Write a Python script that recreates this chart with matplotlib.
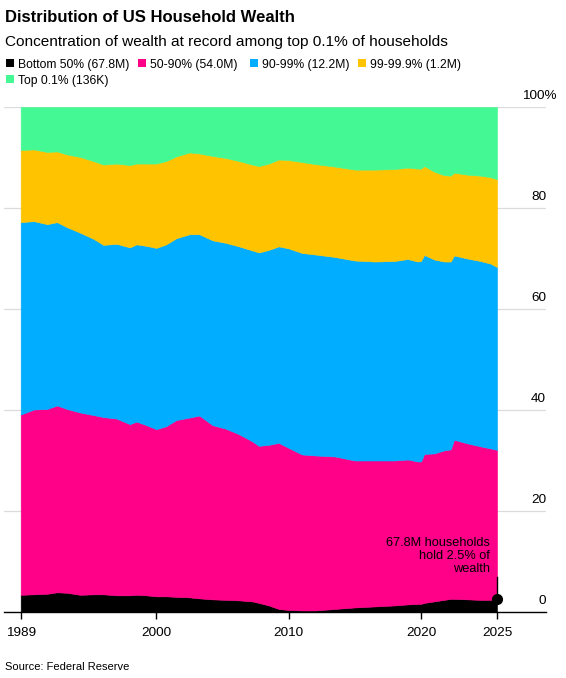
import numpy as np
import matplotlib
matplotlib.use('Agg')
import matplotlib.pyplot as plt
from matplotlib.patches import Rectangle

plt.rcParams['font.family'] = ['Liberation Sans', 'DejaVu Sans']

# Quarter positions (decimal years) and wealth shares in percent
years = [1989.75, 1990.75, 1991.75, 1992.5, 1993.25, 1994.25, 1995.25, 1996.0,
         1997.0, 1998.0, 1998.5, 1999.25, 2000.0, 2000.75, 2001.5, 2002.5,
         2003.25, 2004.25, 2005.25, 2006.25, 2007.25, 2007.75, 2008.5, 2009.25,
         2010.0, 2011.0, 2012.0, 2013.5, 2015.0, 2016.5, 2018.0, 2019.0,
         2019.75, 2020.0, 2020.25, 2021.0, 2021.75, 2022.25, 2022.5, 2023.5,
         2024.5, 2025.25, 2025.75]
bottom50 = [3.4, 3.5, 3.6, 3.9, 3.8, 3.4, 3.5, 3.5, 3.3, 3.3, 3.4, 3.3, 3.1, 3.1,
            3.0, 2.9, 2.7, 2.5, 2.4, 2.3, 2.1, 1.8, 1.3, 0.6, 0.4, 0.3, 0.3, 0.6,
            0.9, 1.1, 1.3, 1.5, 1.6, 1.6, 1.8, 2.1, 2.4, 2.6, 2.6, 2.5, 2.4, 2.4, 2.5]
p50_90 = [35.7, 36.6, 36.6, 37.0, 36.4, 36.1, 35.5, 35.1, 35.0, 33.9, 34.3, 33.7,
          33.1, 33.7, 35.0, 35.6, 36.2, 34.5, 33.9, 32.9, 31.7, 31.1, 31.8, 32.9,
          32.1, 30.9, 30.7, 30.2, 29.1, 28.9, 28.7, 28.7, 28.2, 28.2, 29.5, 29.3,
          29.6, 29.6, 31.5, 30.9, 30.4, 30.0, 29.6]
p90_99 = [38.1, 37.3, 36.6, 36.3, 36.0, 35.6, 34.9, 34.1, 34.6, 35.0, 35.1, 35.5,
          35.9, 36.0, 36.0, 36.3, 35.9, 36.6, 36.8, 37.2, 37.8, 38.3, 38.6, 38.9,
          39.5, 39.9, 39.8, 39.5, 39.6, 39.4, 39.5, 39.7, 39.6, 39.7, 39.4, 38.4,
          37.4, 37.2, 36.5, 36.6, 36.7, 36.6, 36.2]
p99_999 = [14.3, 14.2, 14.3, 14.0, 14.4, 15.0, 15.4, 15.9, 15.9, 16.3, 16.0, 16.3,
           16.7, 16.5, 16.2, 16.2, 16.0, 16.7, 16.8, 16.9, 17.0, 17.1, 17.1, 17.2,
           17.5, 18.0, 17.9, 17.9, 18.0, 18.2, 18.2, 18.1, 18.4, 18.3, 17.6, 17.4,
           17.1, 17.0, 16.4, 16.6, 16.9, 17.1, 17.4]
top01 = [8.5, 8.4, 8.9, 8.8, 9.4, 9.9, 10.7, 11.4, 11.2, 11.5, 11.2, 11.2, 11.2,
         10.7, 9.8, 9.0, 9.2, 9.7, 10.1, 10.7, 11.4, 11.7, 11.2, 10.4, 10.5, 10.9,
         11.3, 11.8, 12.4, 12.4, 12.3, 12.0, 12.2, 12.2, 11.7, 12.8, 13.5, 13.6,
         13.0, 13.4, 13.6, 13.9, 14.3]

groups = ['Bottom 50% (67.8M)', '50-90% (54.0M)', '90-99% (12.2M)',
          '99-99.9% (1.2M)', 'Top 0.1% (136K)']
colors = ['#000000', '#ff0088', '#00adff', '#ffc300', '#44f893']

xtick_pos = [1989.75, 2000, 2010, 2020, 2025.75]
xtick_labels = ['1989', '2000', '2010', '2020', '2025']
ytick_vals = [0, 20, 40, 60, 80, 100]

W, H = 566, 678
fig = plt.figure(figsize=(W / 100, H / 100), dpi=100)


def fx(x):
    return x / W


def fy(y):
    return 1 - y / H


ax = fig.add_axes([fx(4), fy(612), fx(546) - fx(4), fy(107) - fy(612)])

# gridlines behind the areas
for v in ytick_vals:
    ax.axhline(v, color='#dcdcdc', lw=0.9, zorder=0)

polys = ax.stackplot(years, bottom50, p50_90, p90_99, p99_999, top01,
                     colors=colors, linewidth=0, zorder=2)
for p in polys:
    p.set_edgecolor(p.get_facecolor())
    p.set_linewidth(0.4)

ax.set_xlim(1988.49, 2029.45)
ax.set_ylim(0, 100)

for s in ['top', 'left', 'right']:
    ax.spines[s].set_visible(False)
ax.spines['bottom'].set_color('black')
ax.spines['bottom'].set_linewidth(1)
ax.spines['bottom'].set_zorder(3)

ax.set_yticks([])
ax.set_xticks(xtick_pos)
ax.set_xticklabels(xtick_labels, fontsize=9.7)
ax.tick_params(axis='x', length=5, width=1, color='black', pad=6)

# right-side value labels sitting above the gridlines
for v in ytick_vals:
    lab = '100%' if v == 100 else str(v)
    xpos = (557 - 4) / 542 if v == 100 else 1.0
    ax.annotate(lab, xy=(xpos, v), xycoords=('axes fraction', 'data'),
                xytext=(0, 8), textcoords='offset pixels',
                ha='right', va='baseline', fontsize=9.7, annotation_clip=False)

# end point annotation
last_x = years[-1]
ax.plot([last_x, last_x], [bottom50[-1], 6.9], color='black', lw=1, zorder=4)
ax.plot(last_x, bottom50[-1], 'o', color='black', ms=7, zorder=5, clip_on=False)
ax.annotate('67.8M households\nhold 2.5% of\nwealth', xy=(last_x, 7.9),
            xytext=(-7, 0), textcoords='offset pixels', ha='right',
            va='baseline', multialignment='right', fontsize=9.2, linespacing=1.1,
            zorder=6)

# titles
fig.text(fx(5), fy(22), 'Distribution of US Household Wealth',
         fontsize=12, fontweight='bold', va='baseline', ha='left')
fig.text(fx(5), fy(46), 'Concentration of wealth at record among top 0.1% of households',
         fontsize=11.1, va='baseline', ha='left')

# legend drawn by hand
leg_pos = [(6, 68), (138, 68), (250, 68), (358, 68), (6, 84)]
for (lx, ly), name, c in zip(leg_pos, groups, colors):
    fig.patches.append(Rectangle((fx(lx), fy(ly - 1)), 8 / W, 8 / H,
                                 transform=fig.transFigure, color=c, lw=0))
    fig.text(fx(lx + 12), fy(ly), name, fontsize=8.7, va='baseline', ha='left')

fig.text(fx(5), fy(670), 'Source: Federal Reserve', fontsize=8,
         va='baseline', ha='left')

fig.savefig('out.png', dpi=100)
